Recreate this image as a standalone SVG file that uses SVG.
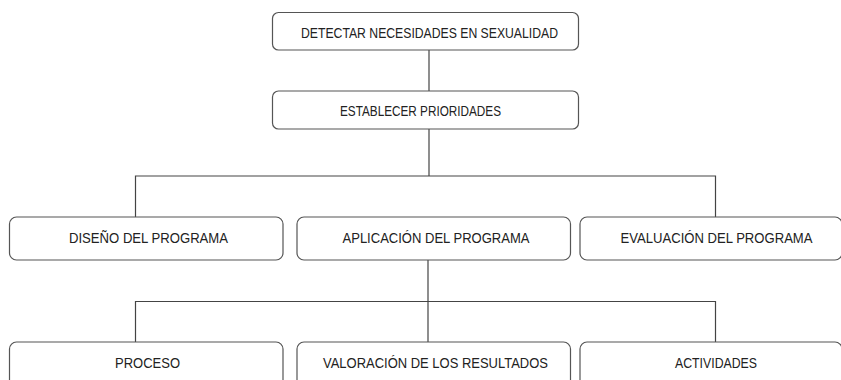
<svg xmlns="http://www.w3.org/2000/svg" width="841" height="380" viewBox="0 0 841 380">
<style>
.box{fill:#fff;stroke:#555;stroke-width:1.2}
.lbl{font-family:"Liberation Sans",Arial,sans-serif;font-size:14.5px;fill:#222;text-anchor:middle}
.con{fill:none;stroke:#444;stroke-width:1.2}
</style>
<rect width="841" height="380" fill="#fff"/>
<g id="connectors">
<path class="con" d="M429 50 V91"/>
<path class="con" d="M429 129 V176"/>
<path class="con" d="M135.5 217 V176 H715.5 V217"/>
<path class="con" d="M428 260 V342"/>
<path class="con" d="M135.5 342 V301.5 H715.5 V342"/>
</g>
<g id="n1"><rect class="box" x="272.5" y="12.5" width="306" height="37.5" rx="6"/><text class="lbl" x="429.5" y="37.5" textLength="257" lengthAdjust="spacingAndGlyphs">DETECTAR NECESIDADES EN SEXUALIDAD</text></g>
<g id="n2"><rect class="box" x="272.5" y="91" width="306" height="38" rx="6"/><text class="lbl" x="420.5" y="115.5" textLength="161" lengthAdjust="spacingAndGlyphs">ESTABLECER PRIORIDADES</text></g>
<g id="n3"><rect class="box" x="9.5" y="217" width="273.5" height="43" rx="7"/><text class="lbl" x="148.5" y="243" textLength="159" lengthAdjust="spacingAndGlyphs">DISEÑO DEL PROGRAMA</text></g>
<g id="n4"><rect class="box" x="297" y="217" width="273.5" height="43" rx="7"/><text class="lbl" x="436" y="243" textLength="187" lengthAdjust="spacingAndGlyphs">APLICACIÓN DEL PROGRAMA</text></g>
<g id="n5"><rect class="box" x="580" y="217" width="262" height="43" rx="7"/><text class="lbl" x="716.5" y="243" textLength="192" lengthAdjust="spacingAndGlyphs">EVALUACIÓN DEL PROGRAMA</text></g>
<g id="n6"><rect class="box" x="9.5" y="342" width="273.5" height="50" rx="7"/><text class="lbl" x="147.5" y="368" textLength="65" lengthAdjust="spacingAndGlyphs">PROCESO</text></g>
<g id="n7"><rect class="box" x="297" y="342" width="273.5" height="50" rx="7"/><text class="lbl" x="435.5" y="368" textLength="225" lengthAdjust="spacingAndGlyphs">VALORACIÓN DE LOS RESULTADOS</text></g>
<g id="n8"><rect class="box" x="580" y="342" width="262" height="50" rx="7"/><text class="lbl" x="716" y="368" textLength="82" lengthAdjust="spacingAndGlyphs">ACTIVIDADES</text></g>
</svg>
